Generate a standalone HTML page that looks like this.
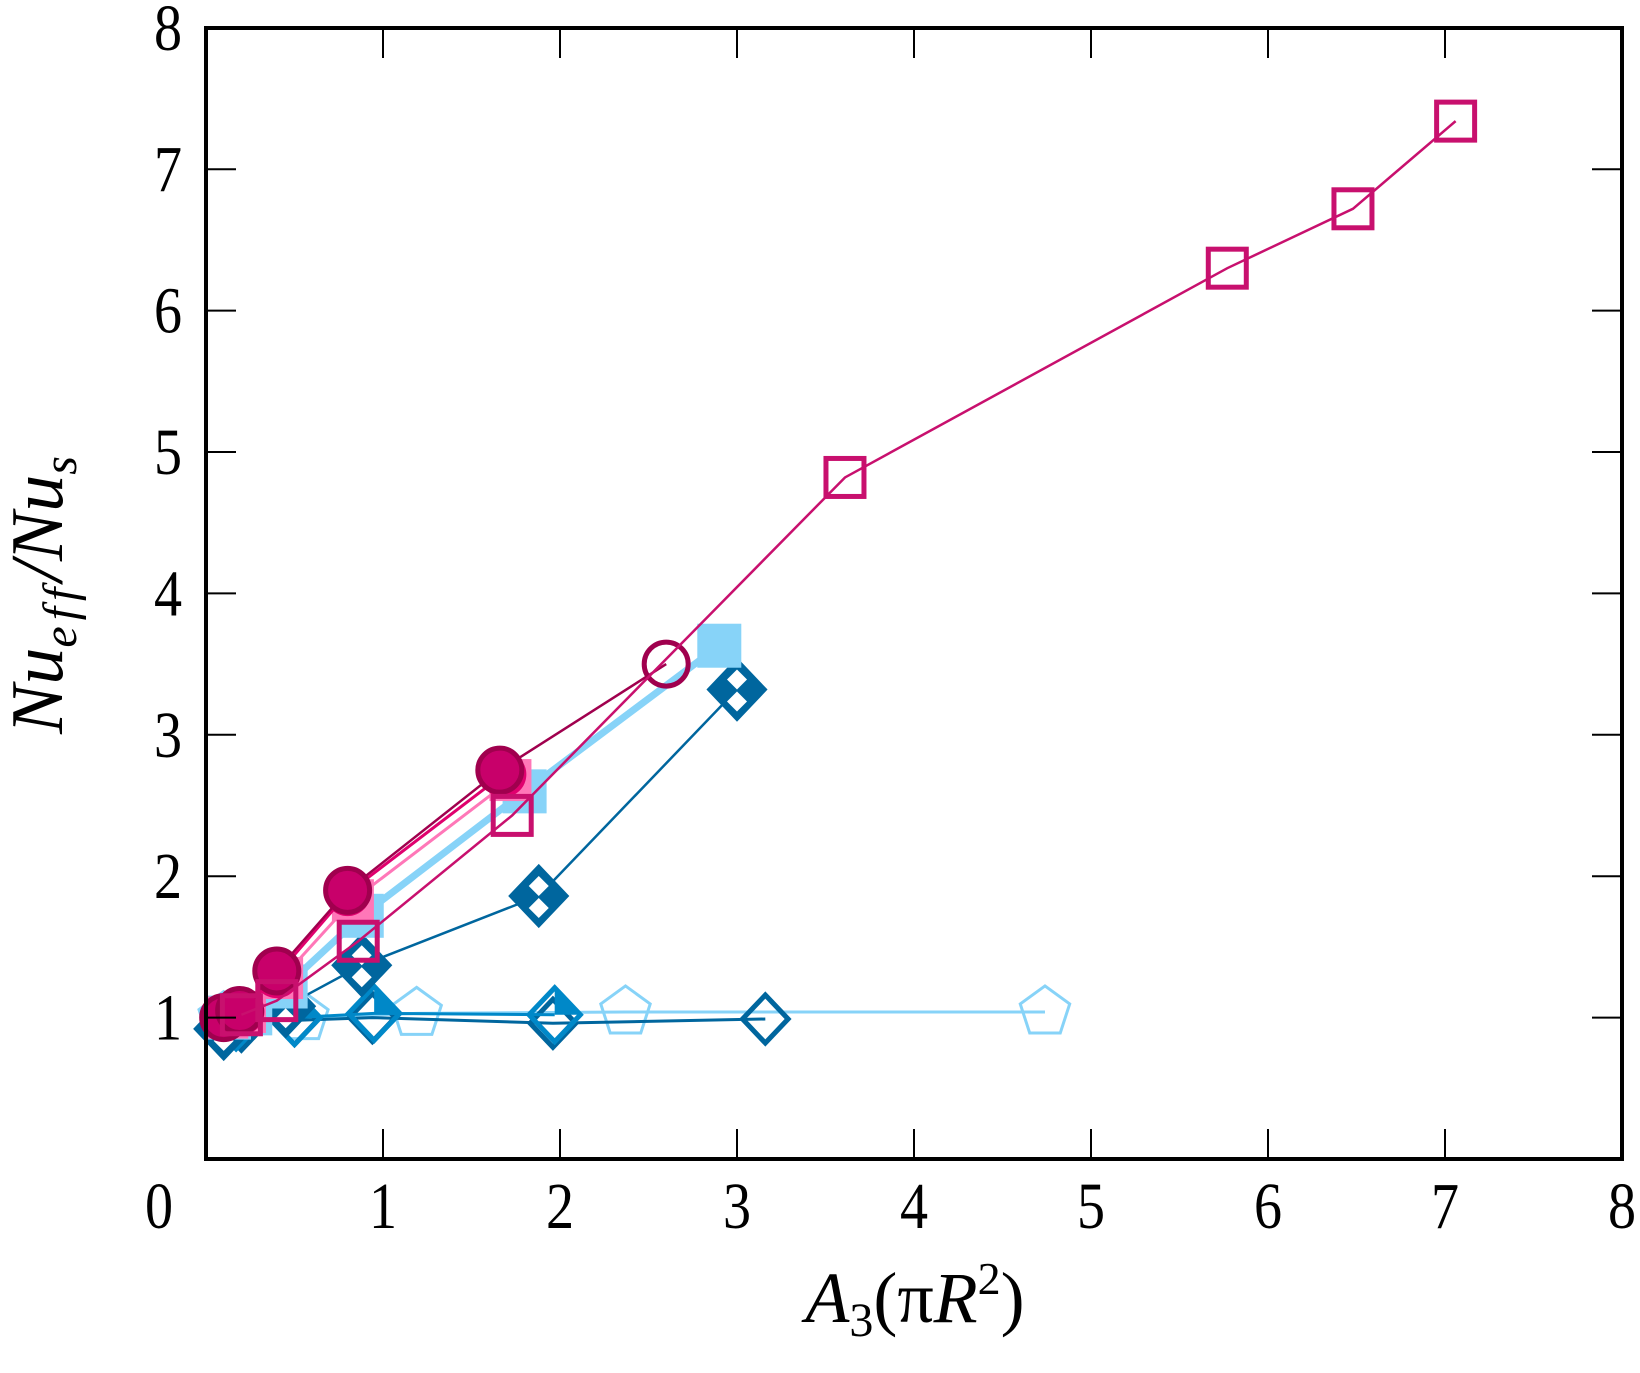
<!DOCTYPE html>
<html><head><meta charset="utf-8"><style>
html,body{margin:0;padding:0;background:#fff;}
svg{display:block;}
text{font-family:"Liberation Serif","Times New Roman",serif;fill:#000;}
</style></head><body>
<svg id="chart" width="1640" height="1373" viewBox="0 0 1640 1373" font-family="Liberation Serif, serif">
<g id="marks"></g>
<rect x="206" y="28" width="1416" height="1131" fill="none" stroke="#000" stroke-width="4"/>
<g id="axes"></g>
<text x="915" y="1322" font-family="Liberation Serif, serif" font-size="72" font-style="italic" text-anchor="middle">A<tspan font-size="48" dy="14" font-style="normal">3</tspan><tspan dy="-14" font-style="normal">(π</tspan>R<tspan font-size="46" dy="-28" font-style="normal">2</tspan><tspan dy="28" font-style="normal">)</tspan></text>
<text transform="translate(62,595) rotate(-90)" font-family="Liberation Serif, serif" font-size="74" font-style="italic" text-anchor="middle">Nu<tspan font-size="48" dy="14" letter-spacing="6">eff</tspan><tspan dy="-14">/Nu</tspan><tspan font-size="48" dy="14">s</tspan></text>
</svg>
<script>
const xTicks=[0,1,2,3,4,5,6,7,8];
const yTicks=[1,2,3,4,5,6,7,8];
const sqX=[0.2,0.4,0.86,1.73,3.61,5.77,6.48,7.06];
const sqY=[1.02,1.12,1.54,2.43,4.82,6.30,6.72,7.34];
const ocX=[0.1,0.19,0.4,0.8,1.66,2.6];
const ocY=[1.0,1.05,1.33,1.9,2.75,3.5];
const fcX=[0.1,0.2,0.4,0.8,1.68];
const fcY=[1.0,1.04,1.3,1.88,2.72];
const psX=[0.12,0.22,0.43,0.83,1.72];
const psY=[1.0,1.04,1.28,1.83,2.68];
const lbX=[0.13,0.25,0.45,0.88,1.8,2.9];
const lbY=[1.0,1.03,1.22,1.72,2.6,3.63];
const ddX=[0.1,0.45,0.88,1.88,3.0];
const ddY=[0.92,1.08,1.37,1.86,3.32];
const mdX=[0.17,0.5,0.95,1.97];
const mdY=[0.97,1.0,1.03,1.02];
const odX=[0.2,0.5,0.94,1.96,3.16];
const odY=[0.94,0.98,1.0,0.96,0.99];
const pgX=[0.1,0.55,1.19,2.37,4.74];
const pgY=[1.0,1.0,1.03,1.04,1.04];

const NS="http://www.w3.org/2000/svg";
const X=v=>206+177*v, Y=v=>1159-141.4*v;
const marks=document.getElementById('marks'), axes=document.getElementById('axes');
function mk(tag,attrs,parent){const e=document.createElementNS(NS,tag);for(const k in attrs)e.setAttribute(k,attrs[k]);parent.appendChild(e);return e;}

xTicks.forEach(t=>{
  if(t>0&&t<8){
    const a=mk('line',{x1:X(t),x2:X(t),y1:1159,y2:1129,stroke:'#000','stroke-width':2},axes);
    
    
    const b=mk('line',{x1:X(t),x2:X(t),y1:28,y2:58,stroke:'#000','stroke-width':2},axes);
    
    
  }
  const cx=X(t)-(t===0?47:0);
  const l=mk('text',{x:0,y:0,'font-size':66,'text-anchor':'middle','font-family':'Liberation Serif, serif',transform:`translate(${cx},1228) scale(0.85,1)`},axes);
  l.textContent=t;
  
  
});
yTicks.forEach(t=>{
  if(t<8){
    const a=mk('line',{x1:206,x2:236,y1:Y(t),y2:Y(t),stroke:'#000','stroke-width':2},axes);
    
    
    const b=mk('line',{x1:1592,x2:1622,y1:Y(t),y2:Y(t),stroke:'#000','stroke-width':2},axes);
    
    
  }
  const l=mk('text',{x:0,y:0,'font-size':66,'text-anchor':'end','font-family':'Liberation Serif, serif',transform:`translate(182,${Y(t)+22}) scale(0.85,1)`},axes);
  l.textContent=t;
  
  
});

function line(xs,ys,color,w,name){
  const p=mk('polyline',{points:xs.map((x,i)=>X(x)+','+Y(ys[i])).join(' '),fill:'none',stroke:color,'stroke-width':w},marks);
  
  
}
function square(x,y,s,fill,stroke,sw,name){
  const r=mk('rect',{x:X(x)-s/2,y:Y(y)-s/2,width:s,height:s,fill:fill,stroke:stroke,'stroke-width':sw},marks);
  
  
}
function circle(x,y,r,fill,stroke,sw,name){
  const c=mk('circle',{cx:X(x),cy:Y(y),r:r,fill:fill,stroke:stroke,'stroke-width':sw},marks);
  
  
}
function diamond(x,y,h,fill,stroke,sw,name){
  const cx=X(x),cy=Y(y);
  const d=mk('polygon',{points:`${cx},${cy-h} ${cx+h*0.95},${cy} ${cx},${cy+h} ${cx-h*0.95},${cy}`,fill:fill,stroke:stroke,'stroke-width':sw},marks);
  
  
  return [cx,cy];
}
function pent(x,y,r,stroke,name){
  const cx=X(x),cy=Y(y);let pts=[];
  for(let i=0;i<5;i++){const a=-Math.PI/2+i*2*Math.PI/5;pts.push((cx+r*Math.cos(a))+','+(cy+r*Math.sin(a)));}
  const p=mk('polygon',{points:pts.join(' '),fill:'none',stroke:stroke,'stroke-width':3},marks);
  
  
}

line(pgX,pgY,'#87d3f8',3,'pentagon-series-line');
pgX.forEach((x,i)=>pent(x,pgY[i],26,'#87d3f8','pentagon-marker'));
line(odX,odY,'#00669e',3,'open-diamond-series-line');
odX.forEach((x,i)=>diamond(x,odY[i],24,'none','#00669e',5,'open-diamond-marker'));
line(mdX,mdY,'#0088c8',3,'blue-diamond-series-line');
mdX.forEach((x,i)=>{const [cx,cy]=diamond(x,mdY[i],27,'none','#0088c8',5,'blue-diamond-marker');
  const f=mk('polygon',{points:`${cx},${cy-27} ${cx+26},${cy} ${cx},${cy}`,fill:'#0088c8'},marks);
  
  });
line(ddX,ddY,'#00669e',2.5,'dark-diamond-series-line');
ddX.forEach((x,i)=>{const [cx,cy]=diamond(x,ddY[i],30,'#00669e','#00669e',3,'dark-diamond-marker');
  const a=mk('polygon',{points:`${cx},${cy-20} ${cx+10},${cy-10} ${cx},${cy} ${cx-10},${cy-10}`,fill:'#fff'},marks);
  
  
  const b=mk('polygon',{points:`${cx},${cy+2} ${cx+10},${cy+12} ${cx},${cy+22} ${cx-10},${cy+12}`,fill:'#fff'},marks);
  
  });
line(lbX,lbY,'#87d3f8',7,'light-blue-square-line');
lbX.forEach((x,i)=>square(x,lbY[i],44,'#87d3f8','none',0,'light-blue-square-marker'));
line(psX,psY,'#ff77b8',3,'pink-square-line');
psX.forEach((x,i)=>square(x,psY[i],42,'#ff77b8','none',0,'pink-square-marker'));
line(fcX,fcY,'#e0006e',3,'magenta-circle-line');
fcX.forEach((x,i)=>circle(x,fcY[i],23,'#e0006e','none',0,'magenta-circle-marker'));
line(ocX,ocY,'#a0004e',2.5,'dark-circle-line');
ocX.forEach((x,i)=>circle(x,ocY[i],22,i<ocX.length-1?'#c8006a':'none','#a0004e',5,'dark-circle-marker'));
line(sqX,sqY,'#c8106e',2.5,'open-square-line');
sqX.forEach((x,i)=>square(x,sqY[i],38,'none','#c8106e',5,'open-square-marker'));
</script>
</body></html>
